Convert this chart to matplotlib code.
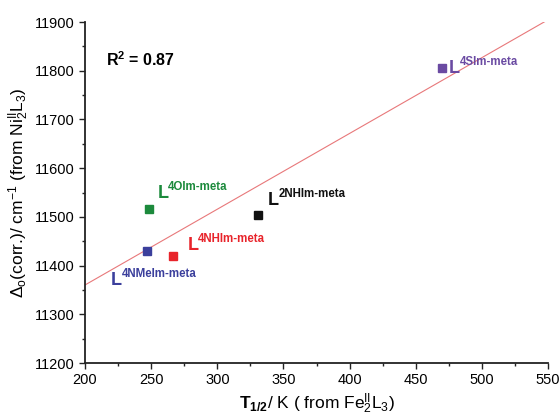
import numpy as np
import matplotlib
matplotlib.use("Agg")
import matplotlib.pyplot as plt

plt.rcParams['font.family'] = ['Liberation Sans', 'DejaVu Sans']
plt.rcParams['mathtext.fontset'] = 'custom'
plt.rcParams['mathtext.rm'] = 'Liberation Sans'
plt.rcParams['mathtext.it'] = 'Liberation Sans:italic'
plt.rcParams['mathtext.bf'] = 'Liberation Sans:bold'

# data
ligands = ['4NMeIm-meta', '4NHIm-meta', '4OIm-meta', '2NHIm-meta', '4SIm-meta']
t_half = [246.6, 266.8, 248.6, 330.5, 469.6]
delta_o = [11430, 11420, 11516, 11504, 11805]
colors = ['#3b3f9c', '#e8242b', '#1c8a3c', '#111111', '#6a4aa2']
# label offsets in pixels from each point (L glyph lower-left)
offsets = [(-36, -34), (14, 6), (8, 11), (10, 10), (7, -5)]

x_ticks = [200, 250, 300, 350, 400, 450, 500, 550]
y_ticks = [11200, 11300, 11400, 11500, 11600, 11700, 11800, 11900]

fig = plt.figure(figsize=(5.6, 4.15), dpi=100)
ax = fig.add_axes([85 / 560, 1 - 363 / 415, 463 / 560, 341 / 415])

# linear fit
k, b = np.polyfit(t_half, delta_o, 1)
xf = np.linspace(200, 550, 200)
ax.plot(xf, k * xf + b, color='#e8787a', lw=0.8, zorder=1)

for x, y, c, lab, (dx, dy) in zip(t_half, delta_o, colors, ligands, offsets):
    ax.plot(x, y, 's', color=c, ms=5.5, zorder=3)
    ax.annotate('L', (x, y), xytext=(dx, dy), textcoords='offset pixels',
                fontsize=13, fontweight='bold', color=c, ha='left', va='baseline')
    ax.annotate(lab, (x, y), xytext=(dx + 11, dy + 8), textcoords='offset pixels',
                fontsize=8.3, fontweight='bold', color=c, ha='left', va='baseline')

ax.text(216, 11822, r'R$^{\mathbf{2}}$ = 0.87', fontsize=11.5, fontweight='bold',
        va='center', ha='left')

ax.set_xlim(200, 550)
ax.set_ylim(11200, 11900)
ax.set_xticks(x_ticks)
ax.set_yticks(y_ticks)
ax.set_xticks(np.arange(225, 550, 50), minor=True)
ax.set_yticks(np.arange(11250, 11900, 100), minor=True)
ax.tick_params(which='major', length=4, width=1, labelsize=10.5, color='#222222')
ax.tick_params(which='minor', length=2.5, width=1, color='#222222')
ax.spines['top'].set_visible(False)
ax.spines['right'].set_visible(False)
for s in ('left', 'bottom'):
    ax.spines[s].set_linewidth(1.3)
    ax.spines[s].set_color('#222222')

ax.set_xlabel(r'$\mathbf{T_{1/2}}$/ K ( from Fe$^{\mathrm{II}}_{2}$L$_{3}$)', fontsize=12.5, labelpad=3)
ax.set_ylabel(r'$\Delta_{\mathrm{o}}$(corr.)/ cm$^{-1}$ (from Ni$^{\mathrm{II}}_{2}$L$_{3}$)', fontsize=12.5, labelpad=3)

fig.savefig('out.png', dpi=100)
